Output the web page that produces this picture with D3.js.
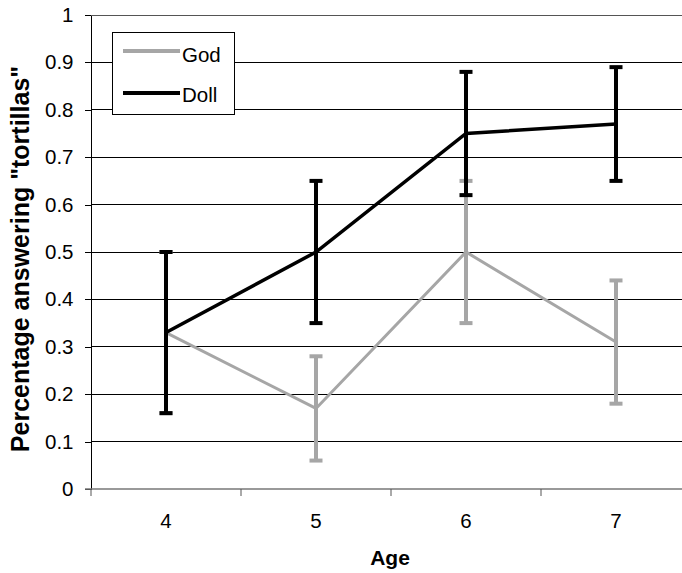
<!DOCTYPE html>
<html><head><meta charset="utf-8">
<script src="https://cdn.jsdelivr.net/npm/d3@7"></script>
<style>body{margin:0;background:#fff}svg{display:block}text{font-family:"Liberation Sans",Arial,sans-serif}</style>
</head><body><svg id="c" width="682" height="573"></svg>
<script>
const ages = ["4","5","6","7"];
const godValues = [0.33, 0.17, 0.50, 0.31];
const godLow = [0.16, 0.06, 0.35, 0.18];
const godHigh = [0.50, 0.28, 0.65, 0.44];
const dollValues = [0.33, 0.50, 0.75, 0.77];
const dollLow = [0.16, 0.35, 0.62, 0.65];
const dollHigh = [0.50, 0.65, 0.88, 0.89];
const yTicks = [0,0.1,0.2,0.3,0.4,0.5,0.6,0.7,0.8,0.9,1];

const svg = d3.select("#c");
const L=91, R=691, T=15, B=489;
const x = d3.scaleBand().domain(ages).range([L,R]);
const y = d3.scaleLinear().domain([0,1]).range([B,T]);
const cx = a => x(a)+x.bandwidth()/2;

// gridlines
svg.append("g").selectAll("line").data(yTicks.filter(d=>d>0)).join("line")
  .attr("x1",L).attr("x2",R).attr("y1",d=>y(d)).attr("y2",d=>y(d))
  .attr("stroke",d=>d===1?"#555":"#000").attr("stroke-width",1).attr("shape-rendering","crispEdges");

// y axis
const ya = svg.append("g").attr("transform",`translate(${L},0)`)
  .call(d3.axisLeft(y).tickValues(yTicks).tickFormat(d=>d===0||d===1?String(d):d3.format(".1f")(d)).tickSize(6).tickSizeOuter(0).tickPadding(11.5));
ya.select(".domain").attr("stroke","#000").attr("shape-rendering","crispEdges");
ya.selectAll(".tick line").attr("stroke","#000").attr("shape-rendering","crispEdges");
ya.selectAll(".tick text").attr("font-size",20.5).attr("fill","#000");

// x axis
const xa = svg.append("g").attr("transform",`translate(0,${B})`)
  .call(d3.axisBottom(x).tickSize(0));
xa.select(".domain").remove();
xa.selectAll(".tick text").attr("y",39).attr("dy",null)
  .attr("font-size",20.5).attr("fill","#000");
svg.append("line").attr("x1",L-6).attr("x2",R).attr("y1",B).attr("y2",B).attr("stroke","#777").attr("stroke-width",1.5);
svg.append("g").selectAll("line").data(d3.range(ages.length+1)).join("line")
  .attr("x1",i=>L+i*x.step()).attr("x2",i=>L+i*x.step()).attr("y1",B).attr("y2",B+7)
  .attr("stroke","#555").attr("stroke-width",1);

// titles
svg.append("text").attr("x",390).attr("y",565).attr("text-anchor","middle")
  .attr("font-size",21).attr("font-weight","bold").text("Age");
svg.append("text").attr("transform",`translate(28.5,259) rotate(-90)`).attr("text-anchor","middle")
  .attr("font-size",25).attr("font-weight","bold").text('Percentage answering "tortillas"');

function series(vals, lo, hi, color, lw){
  const line = d3.line().x((d,i)=>cx(ages[i])).y(d=>y(d));
  svg.append("path").datum(vals).attr("d",line).attr("fill","none").attr("stroke",color).attr("stroke-width",lw);
  const g = svg.append("g");
  ages.forEach((a,i)=>{
    g.append("line").attr("x1",cx(a)).attr("x2",cx(a)).attr("y1",y(lo[i])).attr("y2",y(hi[i])).attr("stroke",color).attr("stroke-width",4);
    [lo[i],hi[i]].forEach(v=>g.append("line").attr("x1",cx(a)-6.5).attr("x2",cx(a)+6.5).attr("y1",y(v)).attr("y2",y(v)).attr("stroke",color).attr("stroke-width",4));
  });
}
series(godValues, godLow, godHigh, "#a6a6a6", 3);
series(dollValues, dollLow, dollHigh, "#000", 3.5);

// legend
const lg = svg.append("g");
lg.append("rect").attr("x",112.5).attr("y",32.5).attr("width",122).attr("height",82).attr("fill","#fff").attr("stroke","#000").attr("stroke-width",1);
[["God","#a6a6a6",51,61.5],["Doll","#000",93,101.5]].forEach(([t,c,yy,by])=>{
  lg.append("line").attr("x1",123).attr("x2",180).attr("y1",yy).attr("y2",yy).attr("stroke",c).attr("stroke-width",4);
  lg.append("text").attr("x",182).attr("y",by).attr("font-size",20.5).text(t);
});
</script></body></html>
